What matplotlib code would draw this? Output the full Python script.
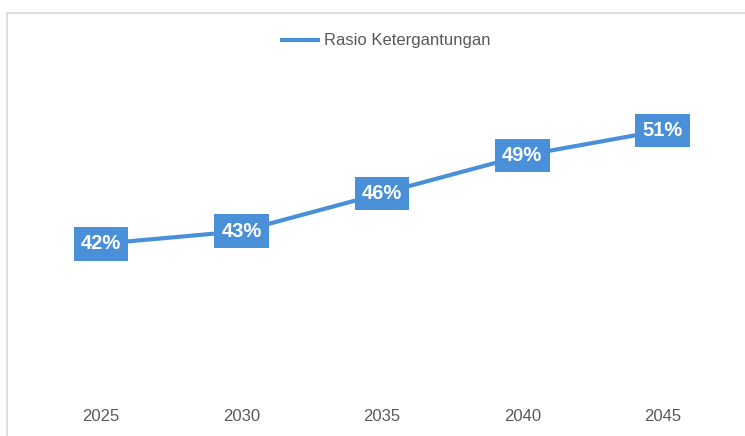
import matplotlib
matplotlib.use("Agg")
import matplotlib.pyplot as plt
from matplotlib.lines import Line2D

# ── Data ──────────────────────────────────────────────────────────────────────
years = ["2025", "2030", "2035", "2040", "2045"]
ratio = [0.42, 0.43, 0.46, 0.49, 0.51]
series_name = "Rasio Ketergantungan"

BLUE = "#4A90D9"
GREY_TEXT = "#595959"
BORDER = "#D9D9D9"

W, H = 745, 436
fig = plt.figure(figsize=(W / 100, H / 100), dpi=100)
fig.patch.set_facecolor("white")

# plot area in pixel terms, converted to figure fractions
left, right, top, bottom = 30.75, 733, 80, 395
ax = fig.add_axes([left / W, 1 - bottom / H, (right - left) / W, (bottom - top) / H])

x = list(range(len(years)))
line, = ax.plot(x, ratio, color=BLUE, lw=3, solid_capstyle="butt",
                solid_joinstyle="round", label=series_name, zorder=2)

for xi, v in zip(x, ratio):
    ax.text(xi, v, f"{v * 100:.0f}%", ha="center", va="center",
            color="white", fontsize=14.5, fontweight="bold", family="Liberation Sans",
            bbox=dict(boxstyle="square,pad=0.36", fc=BLUE, ec="none"), zorder=3)

ax.set_xlim(-0.5, len(years) - 0.5)
ax.set_ylim(0.30, 0.55)
ax.set_yticks([])
ax.set_xticks(x)
ax.set_xticklabels(years, family="Liberation Sans", fontsize=12, color=GREY_TEXT)
ax.tick_params(axis="x", length=0, pad=10)
for s in ax.spines.values():
    s.set_visible(False)
ax.patch.set_alpha(0)

fig.legend(handles=[line], loc="center", bbox_to_anchor=(385 / W, 1 - 41 / H),
           frameon=False, handlelength=2.4, handletextpad=0.25,
           prop={"family": "Liberation Sans", "size": 12}, labelcolor=GREY_TEXT)

# chart frame (left and top edges)
fig.add_artist(Line2D([7.5 / W, 7.5 / W], [0, 1 - 13 / H], color=BORDER, lw=1.2))
fig.add_artist(Line2D([7.5 / W, 1], [1 - 13 / H, 1 - 13 / H], color=BORDER, lw=1.2))

fig.savefig("out.png", dpi=100, facecolor="white")
